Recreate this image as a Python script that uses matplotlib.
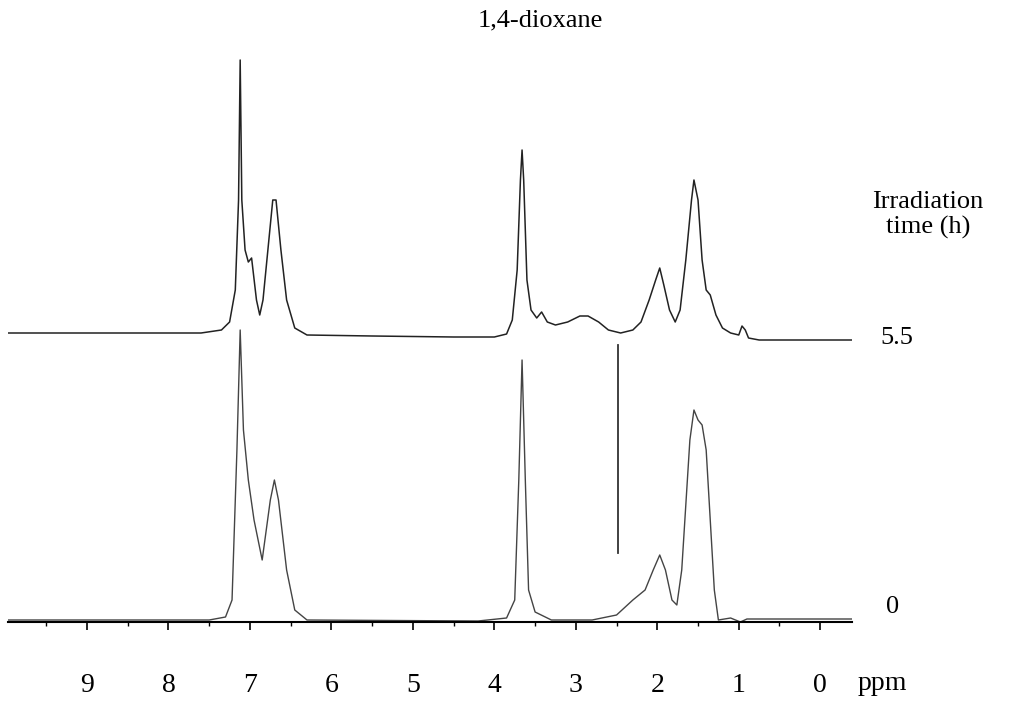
import matplotlib
matplotlib.use("Agg")
import matplotlib.pyplot as plt

# traced spectra: ppm and vertical position (image pixels from top)
top_ppm = [9.97, 8.0, 7.6, 7.35, 7.25, 7.18, 7.14, 7.12, 7.10, 7.06, 7.02, 6.98, 6.92, 6.88, 6.84,
           6.78, 6.72, 6.68, 6.62, 6.55, 6.45, 6.3, 5.5, 4.5, 4.0, 3.85, 3.78, 3.72, 3.68, 3.66,
           3.64, 3.60, 3.55, 3.48, 3.42, 3.35, 3.25, 3.1, 2.95, 2.85, 2.72, 2.6, 2.45, 2.3, 2.2,
           2.1, 2.02, 1.97, 1.92, 1.85, 1.78, 1.72, 1.65, 1.58, 1.55, 1.50, 1.45, 1.40, 1.35,
           1.28, 1.2, 1.1, 1.0, 0.96, 0.92, 0.88, 0.75, 0.0, -0.39]
top_px = [333, 333, 333, 330, 322, 290, 200, 60, 200, 250, 262, 258, 300, 315, 300,
          250, 200, 200, 250, 300, 328, 335, 336, 337, 337, 334, 320, 270, 180, 150,
          180, 280, 310, 318, 312, 322, 325, 322, 316, 316, 322, 330, 333, 330, 322,
          300, 280, 268, 285, 310, 322, 310, 260, 200, 180, 200, 260, 290, 295,
          315, 328, 333, 335, 326, 330, 338, 340, 340, 340]

bot_ppm = [9.97, 7.5, 7.3, 7.22, 7.16, 7.12, 7.08, 7.02, 6.95, 6.85, 6.75, 6.70, 6.65, 6.55,
           6.45, 6.3, 4.2, 3.85, 3.75, 3.70, 3.66, 3.62, 3.58, 3.5, 3.3, 2.8, 2.5, 2.3, 2.15,
           2.05, 1.97, 1.9, 1.82, 1.76, 1.7, 1.6, 1.55, 1.5, 1.45, 1.40, 1.35, 1.3, 1.25,
           1.1, 0.98, 0.9, 0.0, -0.39]
bot_px = [620, 620, 617, 600, 450, 330, 430, 480, 520, 560, 500, 480, 500, 570,
          610, 620, 621, 618, 600, 480, 360, 480, 590, 612, 620, 620, 615, 600, 590,
          570, 555, 570, 600, 605, 570, 440, 410, 420, 425, 450, 520, 590, 620,
          618, 622, 619, 619, 619]

tick_ppm = list(range(0, 10))
H = 708

plt.rcParams['font.family'] = ['Liberation Serif', 'DejaVu Serif']
fig = plt.figure(figsize=(10.24, 7.08), dpi=100)
ax = fig.add_axes([8 / 1024, (H - 622) / H, 844 / 1024, 622 / H])
ax.plot(top_ppm, [H - v for v in top_px], color='#222222', lw=1.1)
ax.plot(bot_ppm, [H - v for v in bot_px], color='#444444', lw=1.0)
ax.plot([2.48, 2.48], [H - 345, H - 553], color='#333333', lw=1.3)

ax.set_xlim(9.97, -0.39)
ax.set_ylim(H - 622, H)
for s in ['top', 'left', 'right']:
    ax.spines[s].set_visible(False)
ax.spines['bottom'].set_linewidth(1.5)
ax.set_yticks([])
ax.set_xticks(tick_ppm)
ax.set_xticks([t + 0.5 for t in tick_ppm], minor=True)
ax.tick_params(axis='x', which='major', length=6, width=1.2, labelsize=20, pad=31)
ax.tick_params(axis='x', which='minor', length=3, width=1)

fig.text(540 / 1024, 1 - 20 / H, '1,4-dioxane', ha='center', va='center', fontsize=19)
fig.text(928 / 1024, 1 - 215 / H, 'Irradiation\ntime (h)', ha='center', va='center',
         fontsize=19, linespacing=1.2)
fig.text(880 / 1024, 1 - 338 / H, '5.5', ha='left', va='center', fontsize=19)
fig.text(893 / 1024, 1 - 607 / H, '0', ha='center', va='center', fontsize=19)
fig.text(858 / 1024, 1 - 684 / H, 'ppm', ha='left', va='center', fontsize=20)

fig.savefig('out.png', dpi=100)
